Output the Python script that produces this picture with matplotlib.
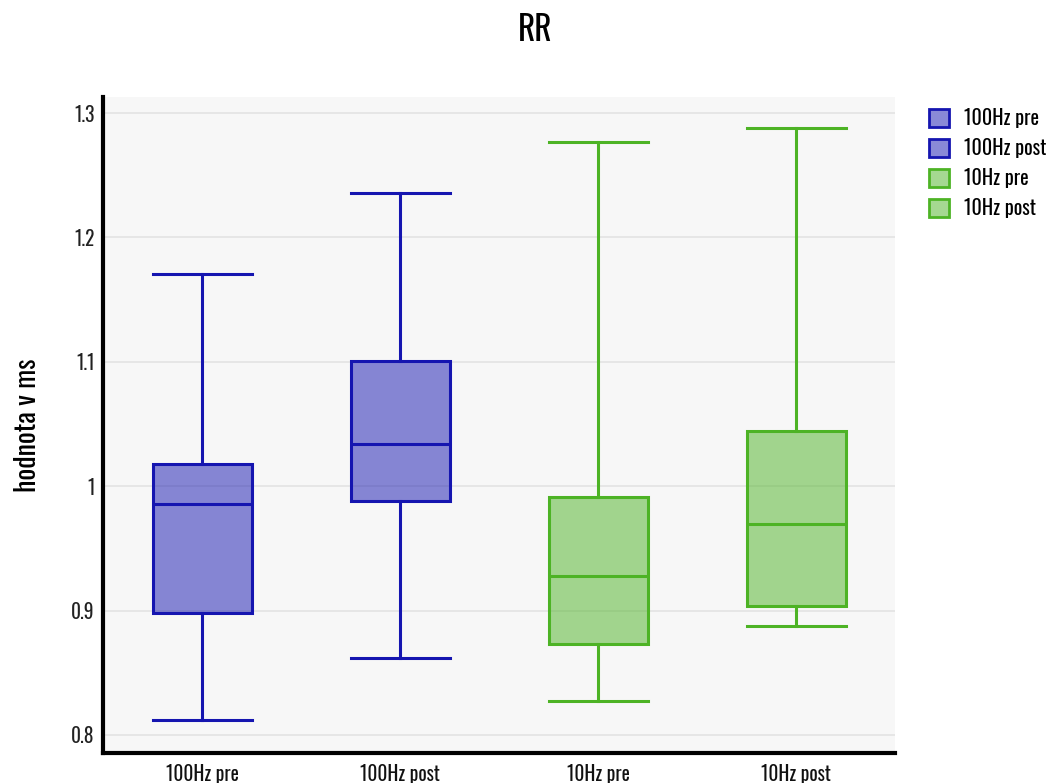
import matplotlib
matplotlib.use("Agg")
import matplotlib.pyplot as plt
from matplotlib.patches import Patch
from matplotlib.colors import to_rgb
from matplotlib import font_manager

categories = ["100Hz pre", "100Hz post", "10Hz pre", "10Hz post"]
whislo = [0.812, 0.862, 0.827, 0.888]
q1 = [0.898, 0.988, 0.873, 0.904]
med = [0.986, 1.034, 0.928, 0.970]
q3 = [1.018, 1.101, 0.991, 1.044]
whishi = [1.171, 1.236, 1.277, 1.288]
yticks = [0.8, 0.9, 1.0, 1.1, 1.2, 1.3]
ytick_labels = ["0.8", "0.9", "1", "1.1", "1.2", "1.3"]

edge_colors = ["#1515b0", "#1515b0", "#4db325", "#4db325"]
fill_colors = ["#1515b0", "#1515b0", "#4db325", "#4db325"]
fill_alpha = 0.5

avail = {f.name for f in font_manager.fontManager.ttflist}
fams = [f for f in ["Oswald", "Liberation Sans Narrow", "Roboto Condensed", "Roboto", "DejaVu Sans"] if f in avail]
plt.rcParams['font.family'] = fams

fig = plt.figure(figsize=(10.52, 7.83), dpi=100)
ax = fig.add_axes([103/1052, 1 - 753/783, (895-103)/1052, (753-97)/783])
ax.set_facecolor("#f7f7f7")

positions = list(range(len(categories)))
for i, c in enumerate(categories):
    s = dict(label=c, whislo=whislo[i], q1=q1[i], med=med[i], q3=q3[i], whishi=whishi[i], fliers=[])
    ec = edge_colors[i]
    fc = (*to_rgb(fill_colors[i]), fill_alpha)
    ax.bxp([s], positions=[positions[i]], widths=0.5, patch_artist=True, showfliers=False,
           boxprops=dict(facecolor=fc, edgecolor=ec, linewidth=2.2, zorder=3),
           medianprops=dict(color=ec, linewidth=2.2, zorder=4),
           whiskerprops=dict(color=ec, linewidth=2.2, zorder=3),
           capprops=dict(color=ec, linewidth=2.2, zorder=3),
           capwidths=0.5)

ax.set_xlim(-0.5, 3.5)
ax.set_ylim(0.7855, 1.3129)
ax.set_yticks(yticks)
ax.set_yticklabels(ytick_labels, fontsize=14, color="#222222")
ax.set_xticks(positions)
ax.set_xticklabels(categories, fontsize=14, color="#111111")
ax.tick_params(axis='both', length=0, pad=6)
ax.tick_params(axis='x', pad=8)
ax.grid(axis='y', color="#e3e3e3", linewidth=1.2, zorder=0)
ax.set_axisbelow(True)
for side in ["top", "right"]:
    ax.spines[side].set_visible(False)
for side in ["left", "bottom"]:
    ax.spines[side].set_linewidth(3)
    ax.spines[side].set_color("black")

ax.set_ylabel("hodnota v ms", fontsize=20)
ax.yaxis.set_label_coords(-62/792, 0.5)
fig.text(535/1052, 1 - 30/783, "RR", fontsize=24, ha="center", va="center")

handles = [Patch(facecolor=(*to_rgb(fill_colors[i]), fill_alpha), edgecolor=edge_colors[i], linewidth=2) for i in range(4)]
leg = fig.legend(handles, categories, loc="upper left", bbox_to_anchor=(911/1052, 1 - 90/783),
                 frameon=False, fontsize=14.5, handlelength=1.0, handleheight=1.0,
                 labelspacing=0.5, handletextpad=0.75)

fig.savefig("out.png", dpi=100)
